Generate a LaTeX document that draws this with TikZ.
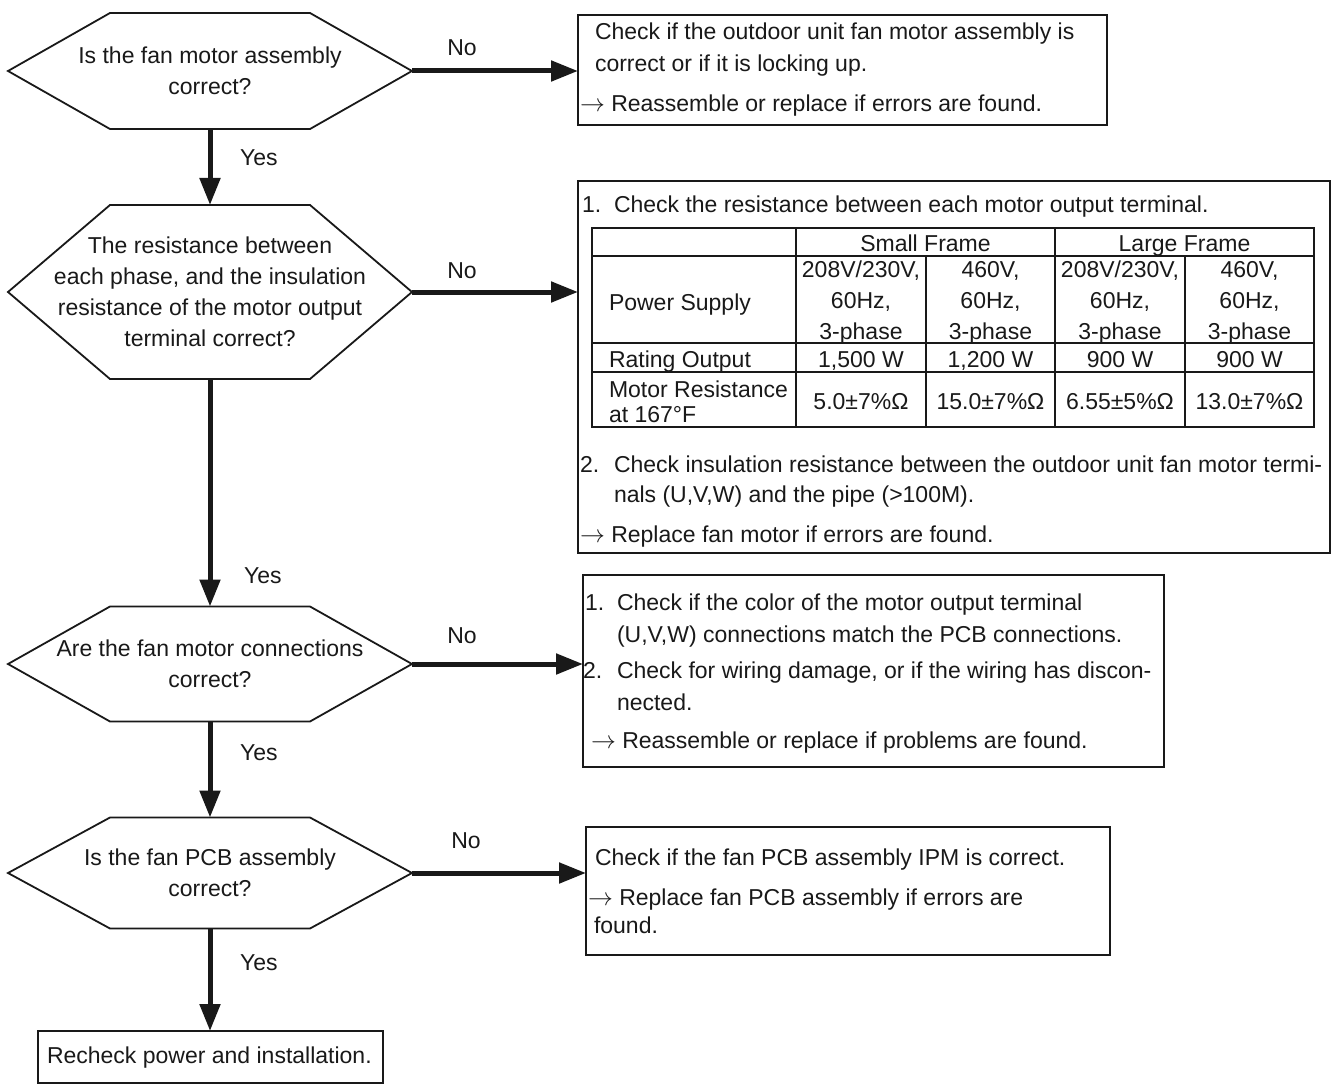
\documentclass[tikz,border=0pt]{standalone}
\usepackage{fontspec}
\setmainfont{Liberation Sans}
\usetikzlibrary{arrows.meta}
\newcommand\hexdraw[1]{\draw[hexline] (#1.west) -- ([xshift=102pt]#1.north west) -- ([xshift=-102pt]#1.north east) -- (#1.east) -- ([xshift=-102pt]#1.south east) -- ([xshift=102pt]#1.south west) -- cycle;}
\begin{document}
\begin{tikzpicture}[x=1pt,y=-1pt,
  every node/.style={font=\fontsize{23}{31}\selectfont, inner sep=0pt, outer sep=0pt, text=black!90},
  hexnode/.style={minimum width=404pt, align=center},
  hexline/.style={line width=1.8pt, line join=miter, draw=black!90},
  boxline/.style={draw=black!90, line width=2pt, inner sep=0pt, anchor=north west},
  flow/.style={line width=5pt, draw=black!90, -{Triangle[length=27pt,width=20pt]}},
  lbl/.style={anchor=base},
  txt/.style={anchor=base west},
  tline/.style={line width=2.6pt, draw=black!90},
]
\useasboundingbox (0,0) rectangle (1335,1086);
\fill[white] (0,0) rectangle (1335,1086);

% decisions
\node[hexnode, minimum height=116pt] (h1) at (210,71) {Is the fan motor assembly\\correct?};
\hexdraw{h1}
\node[hexnode, minimum height=174pt] (h2) at (210,292) {The resistance between\\each phase, and the insulation\\resistance of the motor output\\terminal correct?};
\hexdraw{h2}
\node[hexnode, minimum height=115pt] (h3) at (210,664) {Are the fan motor connections\\correct?};
\hexdraw{h3}
\node[hexnode, minimum height=111pt] (h4) at (210,873) {Is the fan PCB assembly\\correct?};
\hexdraw{h4}

% boxes
\node[boxline, minimum width=529pt, minimum height=110pt] (b1) at (578,15) {};
\node[boxline, minimum width=752pt, minimum height=372pt] (b2) at (578,181) {};
\node[boxline, minimum width=581pt, minimum height=192pt] (b3) at (583,575) {};
\node[boxline, minimum width=524pt, minimum height=128pt] (b4) at (586,827) {};
\node[boxline, minimum width=345pt, minimum height=52pt] (b5) at (38,1031) {};

% connectors
\draw[flow] (h1.east) -- (h1.east -| b1.west);
\draw[flow] (h2.east) -- (h2.east -| b2.west);
\draw[flow] (h3.east) -- (h3.east -| b3.west);
\draw[flow] (h4.east) -- (h4.east -| b4.west);
\draw[flow] (h1.south) -- (h2.north);
\draw[flow] (h2.south) -- (h3.north);
\draw[flow] (h3.south) -- (h4.north);
\draw[flow] (h4.south) -- (h4.south |- b5.north);

% labels
\node[lbl] (no1) at (462,56) {No};
\node[lbl] (no2) at (462,278) {No};
\node[lbl] (no3) at (462,643) {No};
\node[lbl] (no4) at (466,848) {No};
\node[txt] (y1) at (240,166) {Yes};
\node[txt] (y2) at (244,583) {Yes};
\node[txt] (y3) at (240,760) {Yes};
\node[txt] (y4) at (240,970) {Yes};

% box 1 text
\node[txt] (t1a) at (595,40) {Check if the outdoor unit fan motor assembly is};
\node[txt] (t1b) at (595,72) {correct or if it is locking up.};
\node[txt] (t1c) at (580,112) {$\rightarrow$ Reassemble or replace if errors are found.};

% box 2 text
\node[txt] (n2a) at (582,212) {1.};
\node[txt] (t2a) at (614,212) {Check the resistance between each motor output terminal.};
\node[txt] (n2b) at (580,472) {2.};
\node[txt] (t2b) at (614,472) {Check insulation resistance between the outdoor unit fan motor termi-};
\node[txt] (t2c) at (614,502) {nals (U,V,W) and the pipe (>100M).};
\node[txt] (t2d) at (580,542) {$\rightarrow$ Replace fan motor if errors are found.};

% table
\draw[tline] (592,228) rectangle (1314,427);
\draw[tline] (592,256) -- (1314,256);
\draw[tline] (592,343) -- (1314,343);
\draw[tline] (592,372) -- (1314,372);
\draw[tline] (796,228) -- (796,427);
\draw[tline] (1055,228) -- (1055,427);
\draw[tline] (926,256) -- (926,427);
\draw[tline] (1185,256) -- (1185,427);
\node[lbl] (c12) at (925.5,251) {Small Frame};
\node[lbl] (c13) at (1184.5,251) {Large Frame};
\node[txt] (c21) at (609,310) {Power Supply};
\node[lbl, align=center] (c22) at (861,339) {208V/230V,\\60Hz,\\3-phase};
\node[lbl, align=center] (c23) at (990.5,339) {460V,\\60Hz,\\3-phase};
\node[lbl, align=center] (c24) at (1120,339) {208V/230V,\\60Hz,\\3-phase};
\node[lbl, align=center] (c25) at (1249.5,339) {460V,\\60Hz,\\3-phase};
\node[txt] (c31) at (609,367) {Rating Output};
\node[lbl] (c32) at (861,367) {1,500 W};
\node[lbl] (c33) at (990.5,367) {1,200 W};
\node[lbl] (c34) at (1120,367) {900 W};
\node[lbl] (c35) at (1249.5,367) {900 W};
\node[txt] (c41) at (609,397) {Motor Resistance};
\node[txt] (c41b) at (609,422) {at 167°F};
\node[lbl] (c42) at (861,409) {5.0±7\%Ω};
\node[lbl] (c43) at (990.5,409) {15.0±7\%Ω};
\node[lbl] (c44) at (1120,409) {6.55±5\%Ω};
\node[lbl] (c45) at (1249.5,409) {13.0±7\%Ω};

% box 3 text
\node[txt] (n3a) at (585,610) {1.};
\node[txt] (t3a) at (617,610) {Check if the color of the motor output terminal};
\node[txt] (t3b) at (617,642) {(U,V,W) connections match the PCB connections.};
\node[txt] (n3b) at (583,678) {2.};
\node[txt] (t3c) at (617,678) {Check for wiring damage, or if the wiring has discon-};
\node[txt] (t3d) at (617,710) {nected.};
\node[txt] (t3e) at (591,748) {$\rightarrow$ Reassemble or replace if problems are found.};

% box 4 text
\node[txt] (t4a) at (595,865) {Check if the fan PCB assembly IPM is correct.};
\node[txt] (t4b) at (588,905) {$\rightarrow$ Replace fan PCB assembly if errors are};
\node[txt] (t4c) at (594,933) {found.};

% box 5 text
\node[txt] (t5) at (47,1063) {Recheck power and installation.};
\end{tikzpicture}
\end{document}
